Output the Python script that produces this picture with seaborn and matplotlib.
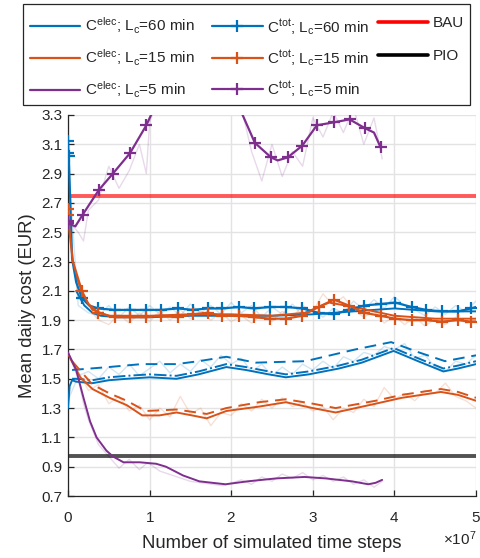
import numpy as np
import pandas as pd
import matplotlib
matplotlib.use("Agg")
import matplotlib.pyplot as plt
from matplotlib.lines import Line2D
from matplotlib.patches import Rectangle
from matplotlib.ticker import ScalarFormatter
import seaborn as sns

# ---------------------------------------------------------------- data
# simulated time steps are given in units of 1e7
SCALE = 1e7

# electricity cost, smoothed
x_elec60 = [0, 0.02, 0.05, 0.1, 0.3, 0.5, 0.72, 1.0, 1.33, 1.6, 1.94, 2.18, 2.46, 2.67,
            2.95, 3.32, 3.6, 3.99, 4.29, 4.6, 4.78, 5.0]
y_elec60 = [1.30, 1.45, 1.49, 1.48, 1.47, 1.49, 1.50, 1.51, 1.50, 1.53, 1.58, 1.56, 1.53, 1.51,
            1.53, 1.57, 1.61, 1.69, 1.62, 1.55, 1.57, 1.60]
x_elec60_dd = [0.05, 0.1, 0.3, 0.5, 0.72, 1.0, 1.33, 1.6, 1.94, 2.18, 2.46, 2.67,
               2.95, 3.32, 3.6, 3.99, 4.29, 4.6, 4.78, 5.0]
y_elec60_dd = [1.50, 1.50, 1.49, 1.51, 1.52, 1.53, 1.52, 1.55, 1.60, 1.58, 1.55, 1.53,
               1.55, 1.59, 1.63, 1.71, 1.64, 1.57, 1.59, 1.62]
x_elec60_da = [0.05, 0.5, 0.9, 1.33, 1.6, 1.94, 2.3, 2.91, 3.52, 3.96, 4.3, 4.62, 5.0]
y_elec60_da = [1.56, 1.58, 1.60, 1.60, 1.62, 1.65, 1.61, 1.62, 1.70, 1.75, 1.68, 1.62, 1.66]

x_elec15 = [0, 0.15, 0.3, 0.51, 0.72, 0.91, 1.12, 1.33, 1.52, 1.7, 1.94, 2.34, 2.67, 3.0,
            3.28, 3.77, 4.09, 4.57, 4.78, 5.0]
y_elec15 = [1.67, 1.51, 1.43, 1.37, 1.32, 1.25, 1.25, 1.27, 1.25, 1.23, 1.28, 1.31, 1.34, 1.30,
            1.27, 1.33, 1.37, 1.41, 1.39, 1.35]
x_elec15_da = [0.05, 0.3, 0.51, 0.72, 0.95, 1.33, 1.7, 1.94, 2.34, 2.67, 3.0, 3.28, 3.77,
               4.09, 4.57, 4.78, 5.0]
y_elec15_da = [1.62, 1.46, 1.40, 1.35, 1.28, 1.29, 1.26, 1.30, 1.34, 1.36, 1.33, 1.30, 1.35,
               1.39, 1.43, 1.41, 1.37]

x_elec5 = [0, 0.1, 0.19, 0.27, 0.35, 0.47, 0.55, 0.68, 0.88, 1.08, 1.2, 1.41, 1.61, 1.93,
           2.2, 2.55, 2.9, 3.16, 3.48, 3.68, 3.77, 3.85]
y_elec5 = [1.68, 1.56, 1.37, 1.21, 1.10, 1.01, 0.97, 0.93, 0.93, 0.92, 0.90, 0.84, 0.80, 0.78,
           0.80, 0.82, 0.83, 0.82, 0.80, 0.78, 0.79, 0.81]

# total cost, smoothed (indices of points carrying a marker listed separately)
x_tot60 = [0, 0.005, 0.01, 0.05, 0.1, 0.17, 0.26, 0.37, 0.57, 0.76, 0.96, 1.14, 1.35, 1.53,
           1.71, 1.89, 2.10, 2.28, 2.48, 2.67, 2.87, 3.07, 3.26, 3.44, 3.63, 3.83, 4.01,
           4.21, 4.39, 4.58, 4.78, 4.94, 5.0]
y_tot60 = [3.12, 3.04, 3.02, 2.32, 2.16, 2.05, 2.00, 1.98, 1.97, 1.97, 1.97, 1.97, 1.98, 1.97,
           1.98, 1.98, 1.99, 1.98, 1.99, 1.99, 1.98, 1.95, 1.94, 1.97, 2.00, 2.01, 2.02,
           1.99, 1.97, 1.96, 1.96, 1.98, 1.99]
mark_tot60 = [0, 1, 2, 5, 7, 8, 9, 10, 11, 12, 13, 14, 15, 16, 17, 18, 19, 20, 21, 22, 23,
              24, 25, 26, 27, 28, 29, 30, 31]
x_tot60_b = [0.1, 0.2, 0.3, 0.4, 0.6, 1.0, 1.5, 2.0, 2.5, 3.0, 3.5, 4.0, 4.5, 5.0]
y_tot60_b = [2.10, 2.00, 1.95, 1.93, 1.92, 1.92, 1.93, 1.93, 1.93, 1.94, 1.96, 1.98, 1.96, 1.96]

x_tot15 = [0, 0.005, 0.02, 0.06, 0.17, 0.25, 0.37, 0.57, 0.76, 0.96, 1.14, 1.35, 1.53,
           1.71, 1.89, 2.10, 2.28, 2.48, 2.67, 2.87, 3.07, 3.26, 3.44, 3.63, 3.83, 4.01,
           4.21, 4.39, 4.58, 4.78, 4.94, 5.0]
y_tot15 = [2.66, 2.62, 2.50, 2.30, 2.10, 2.01, 1.95, 1.92, 1.92, 1.92, 1.93, 1.92, 1.94,
           1.95, 1.93, 1.93, 1.92, 1.91, 1.91, 1.93, 1.99, 2.04, 2.00, 1.95, 1.93, 1.91,
           1.90, 1.90, 1.89, 1.90, 1.89, 1.89]
mark_tot15 = [0, 1, 4, 6, 7, 8, 9, 10, 11, 12, 13, 14, 15, 16, 17, 18, 19, 20, 21, 22, 23,
              24, 25, 26, 27, 28, 29, 30]
x_tot15_b = [0.1, 0.2, 0.3, 0.5, 1.0, 1.5, 2.0, 2.5, 2.9, 3.2, 3.5, 4.0, 4.5, 5.0]
y_tot15_b = [2.20, 2.05, 1.97, 1.93, 1.93, 1.94, 1.94, 1.93, 1.95, 2.02, 1.99, 1.93, 1.91, 1.91]

x_tot5 = [0, 0.005, 0.09, 0.18, 0.38, 0.55, 0.76, 0.96, 1.1, 1.3, 1.5, 1.7, 1.9, 2.05, 2.14,
          2.29, 2.49, 2.57, 2.69, 2.87, 3.05, 3.26, 3.45, 3.64, 3.75, 3.83]
y_tot5 = [2.58, 2.56, 2.54, 2.62, 2.79, 2.90, 3.04, 3.23, 3.40, 3.55, 3.60, 3.58, 3.48, 3.38,
          3.30, 3.11, 3.01, 2.99, 3.01, 3.09, 3.23, 3.25, 3.27, 3.21, 3.18, 3.08]
mark_tot5 = [0, 1, 3, 4, 5, 6, 7, 15, 16, 18, 19, 20, 21, 22, 23, 25]

# raw (unsmoothed) traces
x_raw = [0, 0.125, 0.25, 0.375, 0.5, 0.625, 0.75, 0.875, 1.0, 1.125, 1.25, 1.375, 1.5,
         1.625, 1.75, 1.875, 2.0, 2.125, 2.25, 2.375, 2.5, 2.625, 2.75, 2.875, 3.0, 3.125,
         3.25, 3.375, 3.5, 3.625, 3.75, 3.875, 4.0, 4.125, 4.25, 4.375, 4.5, 4.625, 4.75,
         4.875, 5.0]
raw_elec60 = [1.35, 1.52, 1.55, 1.50, 1.58, 1.53, 1.60, 1.52, 1.57, 1.62, 1.54, 1.60, 1.55,
              1.63, 1.58, 1.66, 1.60, 1.64, 1.55, 1.60, 1.52, 1.58, 1.53, 1.60, 1.56, 1.62,
              1.57, 1.65, 1.62, 1.68, 1.66, 1.72, 1.70, 1.74, 1.64, 1.66, 1.58, 1.55, 1.62,
              1.60, 1.66]
raw_elec15 = [1.65, 1.55, 1.42, 1.46, 1.33, 1.38, 1.28, 1.32, 1.22, 1.30, 1.24, 1.38, 1.26,
              1.30, 1.18, 1.27, 1.25, 1.33, 1.28, 1.36, 1.30, 1.37, 1.31, 1.34, 1.28, 1.31,
              1.22, 1.30, 1.27, 1.36, 1.31, 1.44, 1.36, 1.40, 1.35, 1.42, 1.40, 1.47, 1.38,
              1.35, 1.30]
raw_tot60 = [3.00, 2.00, 1.95, 1.93, 2.00, 1.92, 1.99, 1.93, 2.00, 1.94, 1.99, 1.93, 2.01,
             1.95, 2.00, 1.94, 2.02, 1.95, 2.00, 1.92, 1.99, 1.94, 2.01, 1.93, 1.97, 1.92,
             1.98, 1.95, 2.03, 1.97, 2.04, 1.98, 2.06, 2.00, 1.97, 1.93, 1.99, 1.94, 2.00,
             1.96, 2.03]
raw_tot15 = [2.60, 2.05, 1.98, 1.90, 1.87, 1.94, 1.88, 1.95, 1.89, 1.96, 1.90, 1.97, 1.91,
             1.96, 1.90, 1.95, 1.89, 1.93, 1.88, 1.94, 1.89, 1.96, 1.92, 2.00, 1.96, 2.08,
             2.00, 2.06, 1.97, 1.92, 1.96, 1.88, 1.93, 1.87, 1.92, 1.86, 1.91, 1.87, 1.92,
             1.88, 1.90]
x_raw5 = [0, 0.125, 0.19, 0.25, 0.375, 0.5, 0.625, 0.75, 0.875, 0.96, 1.0, 1.125, 1.5, 1.9,
          2.125, 2.25, 2.375, 2.5, 2.625, 2.75, 2.875, 3.0, 3.125, 3.25, 3.375, 3.5, 3.625,
          3.75, 3.85]
raw_elec5 = [1.68, 1.50, 1.33, 1.22, 1.05, 0.97, 0.89, 0.95, 0.88, 0.92, 0.92, 0.87, 0.80,
             0.77, 0.81, 0.78, 0.83, 0.80, 0.85, 0.82, 0.86, 0.81, 0.84, 0.80, 0.83, 0.78,
             0.81, 0.76, 0.80]
raw_tot5 = [2.58, 2.50, 2.44, 2.65, 2.72, 2.95, 2.80, 2.92, 3.10, 2.90, 3.25, 3.45, 3.60,
            3.50, 3.35, 3.05, 2.85, 3.10, 2.88, 3.05, 2.95, 3.28, 3.15, 3.32, 3.18, 3.35,
            3.10, 3.28, 3.00]

bau_cost = 2.75
pio_cost = 0.97

y_ticks = [0.7, 0.9, 1.1, 1.3, 1.5, 1.7, 1.9, 2.1, 2.3, 2.5, 2.7, 2.9, 3.1, 3.3]
x_ticks = [0, 1, 2, 3, 4, 5]

# ---------------------------------------------------------------- style
BLUE = "#0072BD"
ORANGE = "#D95319"
PURPLE = "#7E2F8E"
INK = "#262626"
W, H = 481, 558

sns.set_theme(style="whitegrid")
plt.rcParams["font.family"] = ["Liberation Sans", "DejaVu Sans"]
plt.rcParams["mathtext.fontset"] = "custom"
plt.rcParams["mathtext.rm"] = "Liberation Sans"
plt.rcParams["mathtext.it"] = "Liberation Sans:italic"
plt.rcParams["mathtext.bf"] = "Liberation Sans:bold"

fig = plt.figure(figsize=(W / 100, H / 100), dpi=100)
ax = fig.add_axes([68 / W, 62 / H, 408 / W, 381 / H])


def draw(xs, ys, color, **kw):
    sns.lineplot(x=np.asarray(xs) * SCALE, y=ys, ax=ax, color=color, estimator=None,
                 sort=False, legend=False, **kw)


# raw traces, faint
for xs, ys, c in [(x_raw, raw_elec60, BLUE), (x_raw, raw_elec15, ORANGE),
                  (x_raw, raw_tot60, BLUE), (x_raw, raw_tot15, ORANGE),
                  (x_raw5, raw_elec5, PURPLE), (x_raw5, raw_tot5, PURPLE)]:
    draw(xs, ys, c, lw=1.0, alpha=0.18, zorder=1)

# reference policies
ax.axhline(bau_cost, color="red", lw=2.8, alpha=0.65, zorder=2)
ax.axhline(pio_cost, color="black", lw=2.8, alpha=0.68, zorder=2)

# electricity cost
draw(x_elec60_da, y_elec60_da, BLUE, lw=1.4, linestyle=(0, (6, 3.5)), zorder=3)
draw(x_elec60_dd, y_elec60_dd, BLUE, lw=1.4, linestyle="-.", zorder=3)
draw(x_elec60, y_elec60, BLUE, lw=1.4, zorder=3)
draw(x_elec15_da, y_elec15_da, ORANGE, lw=1.4, linestyle=(0, (6, 3.5)), zorder=3)
draw(x_elec15, y_elec15, ORANGE, lw=1.4, zorder=3)
draw(x_elec5, y_elec5, PURPLE, lw=1.4, zorder=3)

# total cost
draw(x_tot60_b, y_tot60_b, BLUE, lw=1.4, zorder=4)
draw(x_tot15_b, y_tot15_b, ORANGE, lw=1.4, zorder=4)
marker_kw = dict(marker="+", markersize=8, markeredgewidth=1.6)
draw(x_tot60, y_tot60, BLUE, lw=1.6, markevery=mark_tot60, markeredgecolor=BLUE,
     zorder=5, **marker_kw)
draw(x_tot15, y_tot15, ORANGE, lw=1.6, markevery=mark_tot15, markeredgecolor=ORANGE,
     zorder=5, **marker_kw)
draw(x_tot5, y_tot5, PURPLE, lw=1.6, markevery=mark_tot5, markeredgecolor=PURPLE,
     zorder=5, **marker_kw)

# ---------------------------------------------------------------- axes
ax.set_xlim(0, 5 * SCALE)
ax.set_ylim(0.7, 3.3)
ax.set_yticks(y_ticks)
ax.set_yticklabels([f"{v:.1f}" for v in y_ticks])
ax.set_xticks(np.asarray(x_ticks) * SCALE)
fmt = ScalarFormatter(useMathText=True)
fmt.set_powerlimits((7, 7))
ax.xaxis.set_major_formatter(fmt)
ax.xaxis.get_offset_text().set_fontsize(11)
ax.xaxis.get_offset_text().set_color(INK)

ax.set_facecolor("white")
ax.grid(True, color="#e3e3e3", lw=1.0)
for side in ("top", "right"):
    ax.spines[side].set_visible(False)
for side in ("left", "bottom"):
    ax.spines[side].set_visible(True)
    ax.spines[side].set_color(INK)
    ax.spines[side].set_linewidth(0.9)
ax.tick_params(axis="both", direction="in", length=4, width=0.9, colors=INK,
               labelsize=11, labelcolor=INK, bottom=True, left=True)
ax.tick_params(axis="x", pad=11)
ax.tick_params(axis="y", pad=4)

ax.set_xlabel("Number of simulated time steps", fontsize=13.3, color=INK, labelpad=7)
ax.set_ylabel("Mean daily cost (EUR)", fontsize=13.3, color=INK, labelpad=4)

# ---------------------------------------------------------------- legend
series_handles = [
    Line2D([], [], color=BLUE, lw=1.6),
    Line2D([], [], color=ORANGE, lw=1.6),
    Line2D([], [], color=PURPLE, lw=1.6),
    Line2D([], [], color=BLUE, lw=1.6, **marker_kw),
    Line2D([], [], color=ORANGE, lw=1.6, **marker_kw),
    Line2D([], [], color=PURPLE, lw=1.6, **marker_kw),
]
series_labels = [
    r"C$^{\mathrm{elec}}$; L$_{\mathrm{c}}$=60 min",
    r"C$^{\mathrm{elec}}$; L$_{\mathrm{c}}$=15 min",
    r"C$^{\mathrm{elec}}$; L$_{\mathrm{c}}$=5 min",
    r"C$^{\mathrm{tot}}$; L$_{\mathrm{c}}$=60 min",
    r"C$^{\mathrm{tot}}$; L$_{\mathrm{c}}$=15 min",
    r"C$^{\mathrm{tot}}$; L$_{\mathrm{c}}$=5 min",
]
policy_handles = [Line2D([], [], color="red", lw=2.6),
                  Line2D([], [], color="black", lw=2.6)]
policy_labels = ["BAU", "PIO"]

# shared frame around both legend blocks
fig.add_artist(Rectangle((23 / W, 1 - 105 / H), 447 / W, 101 / H,
                         transform=fig.transFigure, facecolor="white",
                         edgecolor=INK, lw=0.9, zorder=1))

common = dict(loc="upper left", borderaxespad=0, borderpad=0, frameon=False,
              fontsize=11, handlelength=3.3, handletextpad=0.3, numpoints=1)
leg1 = fig.legend(series_handles, series_labels, ncol=2,
                  bbox_to_anchor=(30 / W, 1 - 16 / H),
                  columnspacing=1.15, labelspacing=0.75, **common)
leg2 = fig.legend(policy_handles, policy_labels, ncol=1,
                  bbox_to_anchor=(378 / W, 1 - 16 / H),
                  labelspacing=1.25, **common)
for lg in (leg1, leg2):
    lg.set_zorder(3)
    for t in lg.get_texts():
        t.set_color(INK)

fig.savefig("out.png", dpi=100, facecolor="white")
